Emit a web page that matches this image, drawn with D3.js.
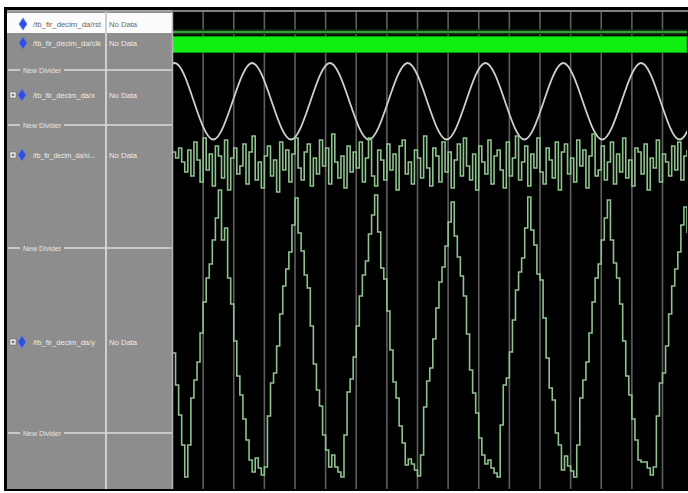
<!DOCTYPE html>
<html><head><meta charset="utf-8">
<script src="https://cdn.jsdelivr.net/npm/d3@7"></script>
<style>html,body{margin:0;padding:0;background:#fff;} svg{display:block}</style>
</head><body>
<script>
// ---------------- DATA ----------------
const signalNames = ["/tb_fir_decim_da/rst", "/tb_fir_decim_da/clk", "/tb_fir_decim_da/x", "/tb_fir_decim_da/xi...", "/tb_fir_decim_da/y"];
const signalValues = ["No Data", "No Data", "No Data", "No Data", "No Data"];
const dividerLabels = ["New Divider", "New Divider", "New Divider", "New Divider"];
// row order in the wave window
const rowKinds = ["sig", "sig", "div", "sig", "div", "sig", "div", "sig", "div"];
const rowExpandable = [false, false, null, true, null, true, null, true, null];

// time axis (ns): grid every 100 ns
const timeSpan = [0, 1680];
const gridTimes = [100, 200, 300, 400, 500, 600, 700, 800, 900, 1000, 1100, 1200, 1300, 1400, 1500, 1600];

// rst: constant low over the whole window
const rstT = [0, 1680];
const rstV = [0, 0];
// clk: toggles far faster than a pixel, drawn as solid band
const clkSpan = [0, 1680];

// analog sine (x): key samples at quarter periods
const sineT = [-121, -57.5, 6, 69.5, 133, 196.5, 260, 323.5, 387, 450.5, 514, 577.5, 641, 704.5, 768, 831.5, 895, 958.5, 1022, 1085.5, 1149, 1212.5, 1276, 1339.5, 1403, 1466.5, 1530, 1593.5, 1657, 1720.5, 1784];
const sineV = [-1, 0, 1, 0, -1, 0, 1, 0, -1, 0, 1, 0, -1, 0, 1, 0, -1, 0, 1, 0, -1, 0, 1, 0, -1, 0, 1, 0, -1, 0, 1];

// sample period of the digital analog-style signals (ns)
const samplePeriod = 10;
// noisy input (xi), one value every 10 ns
const noisyV = [
  12, 6, 16, 2, -8, 14, -12, 22, 4, -18,
  26, -6, 10, -22, 18, 8, -14, 24, -26, 6,
  16, -10, -2, 20, -20, 12, 28, -16, 2, -24,
  8, 18, -12, 4, -28, 22, -6, 14, -18, 10,
  26, -4, -16, 12, 20, -22, 6, -10, 24, -2,
  16, -20, 30, 2, -14, 8, -24, 18, -8, 12,
  -4, 22, -18, 6, 26, -12, -22, 14, 4, -16,
  20, -6, 10, -26, 18, 24, -10, 2, -20, 14,
  6, -14, 28, -4, -22, 16, 8, -18, 22, -8,
  12, -24, 4, 20, -12, 26, -2, -16, 10, -26,
  18, 2, -10, 24, -20, 8, 14, -6, -24, 22,
  -12, 6, 28, -16, 2, 18, -22, 10, -4, 26,
  -8, -20, 16, 4, -14, 22, -26, 12, 20, -10,
  6, -18, 24, -2, 14, -24, 8, 30, -12, -6,
  18, -16, 2, 22, -20, 10, -8, 26, -14, 4,
  -22, 16, 12, -10, 20, -26, 6, -4, 24, -18,
  10, 2, -12, 18, -6, 22, -16, 8, 14
];
// filter output (y), one value every 10 ns
const outV = [
  -13, -45, -75, -105, -137,
  -105, -58, -40, -22, 7, 38, 62, 76, 100, 122, 150, 100, 112, 62, 36, -1, -36, -55, -79, -100, -120, -132, -118, -128, -135,
  -127, -76, -43, -33, -6, 26, 54, 71, 88, 115, 142, 107, 89, 65, 52, 14, -24, -50, -66, -95, -110, -127, -115, -127, -132,
  -137, -95, -52, -39, -17, 14, 44, 65, 79, 106, 125, 145, 108, 72, 61, 29, -10, -42, -58, -86, -103, -125, -119, -124, -130, -136,
  -115, -67, -41, -28, 1, 32, 58, 73, 94, 118, 138, 104, 83, 64, 44, 6, -30, -53, -73, -98, -115, -124, -120, -128, -133,
  -137, -85, -45, -38, -12, 20, 50, 68, 82, 112, 143, 110, 95, 66, 60, 22, -18, -48, -60, -93, -105, -130, -116, -126, -131, -137,
  -105, -58, -40, -22, 7, 38, 62, 76, 100, 122, 140, 100, 77, 62, 36, -1, -36, -55, -79, -100, -120, -122, -122, -128, -135,
  -127, -76, -43, -33, -6, 26, 54, 71, 88, 115, 133, 107
];

// ---------------- LAYOUT ----------------
const W = 688, H = 493;
const frame = {x: 4, y: 7, w: 684, h: 484};
const panel = {x0: 7, x1: 172, y0: 10, y1: 489};
const colDivX = 106;
const wave = {x0: 172.5, x1: 687, y0: 10, y1: 489};
const rowCenters = [24, 43, 70, 95, 125, 155, 248, 342, 433];

const svg = d3.select("body").append("svg").attr("width", W).attr("height", H);
svg.append("rect").attr("width", W).attr("height", H).attr("fill", "#fff");
svg.append("rect").attr("x", frame.x).attr("y", frame.y).attr("width", frame.w).attr("height", frame.h).attr("fill", "#000");

// left panel
svg.append("rect").attr("x", panel.x0).attr("y", panel.y0).attr("width", panel.x1 - panel.x0).attr("height", panel.y1 - panel.y0).attr("fill", "#8d8d8d");
// selected first row
svg.append("rect").attr("x", panel.x0).attr("y", 13).attr("width", panel.x1 - panel.x0).attr("height", 20).attr("fill", "#fbfbfb");
svg.append("line").attr("x1", panel.x0).attr("x2", W).attr("y1", 11).attr("y2", 11).attr("stroke", "#a8a8a8").attr("stroke-width", 1.5);
// column divider
svg.append("line").attr("x1", colDivX).attr("x2", colDivX).attr("y1", 12).attr("y2", panel.y1).attr("stroke", "#cfcfcf").attr("stroke-width", 2);

const font = "'Liberation Sans', Arial, sans-serif";
let sigIdx = 0, divIdx = 0;
rowKinds.forEach((k, r) => {
  const cy = rowCenters[r];
  if (k === "div") {
    const label = dividerLabels[divIdx++];
    svg.append("line").attr("x1", 8).attr("x2", 20).attr("y1", cy).attr("y2", cy).attr("stroke", "#dcdcdc").attr("stroke-width", 1.5);
    svg.append("line").attr("x1", 64).attr("x2", panel.x1).attr("y1", cy).attr("y2", cy).attr("stroke", "#dcdcdc").attr("stroke-width", 1.5);
    svg.append("text").attr("x", 23).attr("y", cy + 2.5).attr("font-family", font).attr("font-size", 7)
      .attr("fill", "#e6e6e6").attr("textLength", 38).attr("lengthAdjust", "spacingAndGlyphs").text(label);
  } else {
    const i = sigIdx++;
    const selected = r === 0;
    if (rowExpandable[r]) {
      svg.append("rect").attr("x", 10).attr("y", cy - 3).attr("width", 6).attr("height", 6).attr("fill", "#f4f4f4").attr("stroke", "#666").attr("stroke-width", 0.6);
      svg.append("path").attr("d", `M11.5,${cy}H14.5M13,${cy - 1.5}V${cy + 1.5}`).attr("stroke", "#333").attr("stroke-width", 0.8);
    }
    const dx = rowExpandable[r] ? 22 : 23;
    svg.append("path").attr("d", `M${dx},${cy - 6}L${dx + 4},${cy}L${dx},${cy + 6}L${dx - 4},${cy}Z`).attr("fill", "#2f4fe0").attr("stroke", "#5a78ff").attr("stroke-width", 0.6);
    svg.append("text").attr("x", 33).attr("y", cy + 2.5).attr("font-family", font).attr("font-size", 7.5)
      .attr("fill", selected ? "#6a6a6a" : "#ececec").attr("textLength", rowExpandable[r] ? 62 : 68).attr("lengthAdjust", "spacingAndGlyphs").text(signalNames[i]);
    svg.append("text").attr("x", 109).attr("y", cy + 2.5).attr("font-family", font).attr("font-size", 7.5)
      .attr("fill", selected ? "#6a6a6a" : "#ececec").attr("textLength", 28).attr("lengthAdjust", "spacingAndGlyphs").text(signalValues[i]);
  }
});

// wave window
const x = d3.scaleLinear().domain(timeSpan).range([wave.x0, wave.x1]);
svg.append("defs").append("clipPath").attr("id", "wclip").append("rect")
  .attr("x", wave.x0).attr("y", 12).attr("width", wave.x1 - wave.x0).attr("height", wave.y1 - 12);
const g = svg.append("g").attr("clip-path", "url(#wclip)");

g.selectAll("line.grid").data(gridTimes).join("line").attr("class", "grid")
  .attr("x1", d => x(d)).attr("x2", d => x(d)).attr("y1", 12).attr("y2", wave.y1)
  .attr("stroke", "#5e5e5e").attr("stroke-width", 1.6);
svg.append("line").attr("x1", x(0)).attr("x2", x(0)).attr("y1", 12).attr("y2", wave.y1).attr("stroke", "#b4b4b4").attr("stroke-width", 1.5);

// rst
const yRst = d3.scaleLinear().domain([0, 1]).range([32, 16]);
const rstLine = d3.line().x((d, i) => x(rstT[i])).y(d => yRst(d)).curve(d3.curveStepAfter);
g.append("path").attr("d", rstLine(rstV)).attr("fill", "none").attr("stroke", "#123a12").attr("stroke-width", 5);
g.append("path").attr("d", rstLine(rstV)).attr("fill", "none").attr("stroke", "#3c9c3c").attr("stroke-width", 1.8);

// clk band
const yClk = d3.scaleLinear().domain([0, 1]).range([52.5, 36.5]);
g.append("rect").attr("x", x(clkSpan[0])).attr("width", x(clkSpan[1]) - x(clkSpan[0]))
  .attr("y", yClk(1)).attr("height", yClk(0) - yClk(1)).attr("fill", "#10f010").attr("stroke", "#0a9a0a").attr("stroke-width", 1);

// sine
const ySin = d3.scaleLinear().domain([-1, 1]).range([139.5, 63]);
const sinLine = d3.line().x((d, i) => x(sineT[i])).y(d => ySin(d)).curve(d3.curveNatural);
g.append("path").attr("d", sinLine(sineV)).attr("fill", "none").attr("stroke", "#c9d2c9").attr("stroke-width", 1.8);

// noisy
const yNoise = d3.scaleLinear().domain([-31, 31]).range([195, 133]);
const noiseLine = d3.line().x((d, i) => x(i * samplePeriod)).y(d => yNoise(d)).curve(d3.curveStepAfter);
g.append("path").attr("d", noiseLine(noisyV)).attr("fill", "none").attr("stroke", "#8fc28f").attr("stroke-width", 1.6);

// output
const yOut = d3.scaleLinear().domain([-140, 140]).range([480, 200]);
const outLine = d3.line().x((d, i) => x(i * samplePeriod)).y(d => yOut(d)).curve(d3.curveStepAfter);
g.append("path").attr("d", outLine(outV)).attr("fill", "none").attr("stroke", "#8fc28f").attr("stroke-width", 1.6);
</script>
</body></html>
